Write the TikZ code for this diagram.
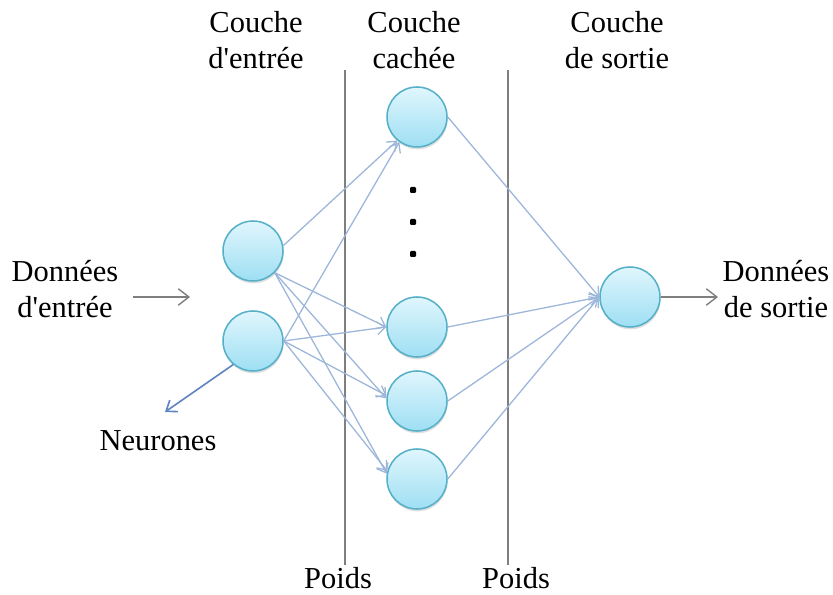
\documentclass[tikz,border=0pt]{standalone}
\usepackage{fontspec}
\setmainfont{Liberation Serif}
\usetikzlibrary{arrows.meta,shadows}
\definecolor{edgeblue}{HTML}{9DB6DA}
\definecolor{neurblue}{HTML}{6085C2}
\definecolor{ringc}{HTML}{55B0C8}
\definecolor{filltop}{HTML}{E0F6FD}
\definecolor{fillbot}{HTML}{9EDFF3}
\definecolor{linegray}{HTML}{7F7F7F}
\tikzset{
  neuron/.style={circle, draw=ringc, line width=1.3pt, minimum size=1.8cm, inner sep=0pt,
    top color=filltop, bottom color=fillbot,
    drop shadow={opacity=0.25, shadow xshift=0.5pt, shadow yshift=-2pt}},
  wedge/.style={draw=edgeblue, line width=1.1pt, -{Straight Barb[length=7pt,width=11pt]}},
  lbl/.style={align=center, font=\fontsize{26}{31}\selectfont, inner sep=0pt},
  sep/.style={draw=linegray, line width=1.3pt},
  dotm/.style={fill=black, minimum size=0.18cm, inner sep=0pt, rectangle, rounded corners=1pt}
}
\begin{document}
\begin{tikzpicture}[x=0.03cm,y=-0.03cm]
\useasboundingbox (0,0) rectangle (833,595);
% separators
\coordinate (s1t) at (345,70); \coordinate (s1b) at (345,565);
\coordinate (s2t) at (508,70); \coordinate (s2b) at (508,565);
\draw[sep] (s1t) -- (s1b);
\draw[sep] (s2t) -- (s2b);
% neurons
\node[neuron] (i1) at (253,251) {};
\node[neuron] (i2) at (253,341) {};
\node[neuron] (h1) at (417,117) {};
\node[neuron] (h2) at (417,327) {};
\node[neuron] (h3) at (417,401) {};
\node[neuron] (h4) at (417,479) {};
\node[neuron] (o) at (630,297) {};
% dots
\node[dotm] (d1) at (413,190) {};
\node[dotm] (d2) at (413,222) {};
\node[dotm] (d3) at (413,254) {};
% weights
\draw[wedge] (i1.10) -- (h1.-130);
\draw[wedge] (i1.-45) -- (h2.west);
\draw[wedge] (i1.-45) -- (h3.175);
\draw[wedge] (i1.-45) -- (h4.170);
\draw[wedge] (i2.east) -- (h1.-125);
\draw[wedge] (i2.east) -- (h2.west);
\draw[wedge] (i2.east) -- (h3.170);
\draw[wedge] (i2.east) -- (h4.165);
\draw[wedge] (h1.east) -- (o.west);
\draw[wedge] (h2.east) -- (o.west);
\draw[wedge] (h3.east) -- (o.west);
\draw[wedge] (h4.east) -- (o.west);
% labels
\node[lbl] (t1) at (256,40) {Couche\\d\textquotesingle entrée};
\node[lbl] (t2) at (414,40) {Couche\\cachée};
\node[lbl] (t3) at (617,40) {Couche\\de sortie};
\node[lbl] (in) at (65,289) {Données\\d\textquotesingle entrée};
\node[lbl] (out) at (776,289) {Données\\de sortie};
\node[lbl] (neu) at (158,441) {Neurones};
\node[lbl] (p1) at (338,578) {Poids};
\node[lbl] (p2) at (516,578) {Poids};
% io arrows
\coordinate (ia) at (133,297); \coordinate (ib) at (190,297);
\draw[linegray, line width=1.2pt, -{Straight Barb[length=9pt,width=14pt]}] (ia) -- (ib);
\coordinate (ob) at (718,297);
\draw[linegray, line width=1.2pt, -{Straight Barb[length=9pt,width=14pt]}] (o.east) -- (ob);
\coordinate (ne) at (165,412);
\draw[neurblue, line width=1.4pt, -{Straight Barb[length=8pt,width=12pt]}] (i2.-130) -- (ne);
\end{tikzpicture}
\end{document}
